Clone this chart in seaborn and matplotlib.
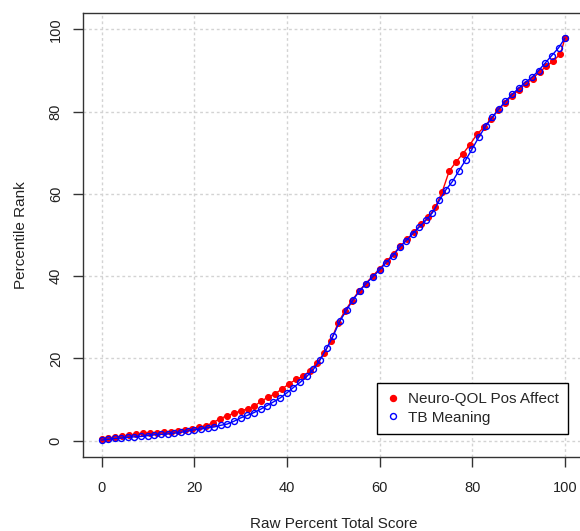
import numpy as np
import matplotlib
matplotlib.use("Agg")
import matplotlib.pyplot as plt
import pandas as pd
import seaborn as sns
from matplotlib.lines import Line2D

# Neuro-QOL Pos Affect (red, filled)
pos_x = [0, 1.5, 3, 4.5, 6, 7.5, 9, 10.5, 12, 13.5, 15, 16.5, 18, 19.5, 21, 22.5, 24, 25.5,
         27, 28.5, 30, 31.5, 33, 34.5, 36, 37.5, 39, 40.5, 42, 43.5, 45, 46.5, 48, 49.5,
         51, 52.5, 54, 55.5, 57, 58.5, 60, 61.5, 63, 64.5, 66, 67.5, 69, 70.5, 72, 73.5,
         75, 76.5, 78, 79.5, 81, 82.5, 84, 85.5, 87, 88.5, 90, 91.5, 93, 94.5, 96, 97.5,
         99, 100]
pos_y = [0.3, 0.6, 0.8, 1.1, 1.3, 1.6, 1.8, 1.9, 1.9, 2.0, 2.1, 2.3, 2.6, 2.9, 3.2, 3.6, 4.3, 5.3,
         6.0, 6.6, 7.2, 7.7, 8.4, 9.6, 10.6, 11.4, 12.6, 13.8, 14.9, 15.6, 17.0, 18.9, 21.2, 24.3,
         28.5, 31.5, 34.0, 36.3, 38.2, 40.0, 41.8, 43.6, 45.4, 47.3, 49.0, 50.8, 52.6, 54.3, 56.7, 60.5,
         65.5, 67.8, 69.8, 72.0, 74.5, 76.2, 78.2, 80.3, 82.1, 83.8, 85.3, 86.8, 88.0, 89.7, 91.0, 92.4,
         94.0, 97.9]

# TB Meaning (blue, open)
mean_x = [0, 1.4, 2.9, 4.3, 5.7, 7.1, 8.6, 10, 11.4, 12.9, 14.3, 15.7, 17.1, 18.6, 20, 21.4,
          22.9, 24.3, 25.7, 27.1, 28.6, 30, 31.4, 32.9, 34.3, 35.7, 37.1, 38.6, 40, 41.4, 42.9,
          44.3, 45.7, 47.1, 48.6, 50, 51.4, 52.9, 54.3, 55.7, 57.1, 58.6, 60, 61.4, 62.9, 64.3,
          65.7, 67.1, 68.6, 70, 71.4, 72.9, 74.3, 75.7, 77.1, 78.6, 80, 81.4, 82.9, 84.3, 85.7,
          87.1, 88.6, 90, 91.4, 92.9, 94.3, 95.7, 97.1, 98.6, 100]
mean_y = [0.1, 0.3, 0.5, 0.6, 0.8, 0.9, 1.0, 1.2, 1.4, 1.5, 1.6, 1.8, 2.0, 2.3, 2.6, 2.8,
          3.1, 3.3, 3.7, 4.0, 4.7, 5.5, 6.1, 6.8, 7.6, 8.5, 9.4, 10.4, 11.6, 12.9, 14.2,
          15.6, 17.3, 19.5, 22.5, 25.5, 29.0, 31.8, 34.3, 36.4, 38.2, 39.9, 41.5, 43.3, 45.0, 47.0,
          48.6, 50.3, 52.0, 53.6, 55.4, 58.4, 61.0, 63.0, 65.6, 68.3, 71.0, 73.8, 76.5, 78.6, 80.6,
          82.5, 84.2, 85.7, 87.1, 88.4, 90.0, 91.8, 93.6, 95.5, 97.9]

ticks = [0, 20, 40, 60, 80, 100]
labels = ["Neuro-QOL Pos Affect", "TB Meaning"]

sns.set_style("white")
plt.rcParams['font.family'] = ['Liberation Sans', 'DejaVu Sans']

fig = plt.figure(figsize=(5.8, 5.31), dpi=100)
ax = fig.add_axes([0.1431, 0.1394, 0.863, 0.8361])

df_pos = pd.DataFrame({"x": pos_x, "y": pos_y})
df_mean = pd.DataFrame({"x": mean_x, "y": mean_y})

sns.lineplot(data=df_pos, x="x", y="y", ax=ax, color="red", lw=1, marker="o",
             markersize=4.3, markeredgecolor="red", markerfacecolor="red", estimator=None, sort=False)
sns.lineplot(data=df_mean, x="x", y="y", ax=ax, color="blue", lw=1, marker="o",
             markersize=4.3, markeredgecolor="blue", markerfacecolor="none", markeredgewidth=1,
             estimator=None, sort=False)

# keep the R-like scale: data range plus 4% at each side
ax.set_xlim(-4, 104)
ax.set_ylim(-4, 104)
ax.set_xticks(ticks)
ax.set_yticks(ticks)
ax.grid(True, color="#d3d3d3", linestyle=(0, (2, 2)), lw=1)
ax.set_axisbelow(True)

for s in ax.spines.values():
    s.set_color("#333333")
    s.set_linewidth(1)
ax.spines["right"].set_visible(False)  # falls just outside the picture in the original

ax.tick_params(axis="both", direction="out", length=7, width=1, color="#333333",
               labelsize=10.5, labelcolor="#222222", left=True, bottom=True)
ax.tick_params(axis="x", pad=10)
ax.tick_params(axis="y", pad=7.5)
for t in ax.get_yticklabels():
    t.set_rotation(90)
    t.set_va("center")

ax.set_xlabel("Raw Percent Total Score", fontsize=11, color="#222222", labelpad=16)
ax.set_ylabel("Percentile Rank", fontsize=11, color="#222222", labelpad=15)

handles = [Line2D([], [], ls="none", marker="o", markersize=4.3, color="red"),
           Line2D([], [], ls="none", marker="o", markersize=4.3, markerfacecolor="none",
                  markeredgecolor="blue", markeredgewidth=1)]
leg = ax.legend(handles, labels, loc="lower right", bbox_to_anchor=(0.969, 0.052),
                borderaxespad=0, fancybox=False, framealpha=1, edgecolor="black",
                fontsize=11, handlelength=0.8, handletextpad=0.6, borderpad=0.6,
                labelspacing=0.3)
leg.get_frame().set_linewidth(1)

plt.savefig("out.png", dpi=100)
